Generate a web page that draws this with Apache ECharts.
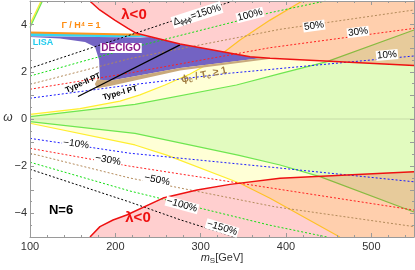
<!DOCTYPE html>
<html><head><meta charset="utf-8">
<script src="https://cdn.jsdelivr.net/npm/echarts@6/dist/echarts.min.js"></script>
<style>html,body{margin:0;padding:0;background:#fff}#c{width:415px;height:270px}</style>
</head><body><div id="c"></div>
<script>
// ---- tick labels ----
const xTickValues = [100, 200, 300, 400, 500];
const yTickValues = [-4, -2, 0, 2, 4];

// ---- lambda<0 boundaries (solid red) [mS, omega] ----
const lambdaUpper = [[170,5.0],[181.7,4.62],[199.3,4.19],[214.8,3.84],[224.6,3.63],[275.8,3.18],[357.8,2.64],[381.3,2.57],[550,2.27]];
const lambdaLower = [[170.3,-5.0],[182,-4.56],[197.3,-4.28],[213.3,-4.07],[255.9,-3.35],[295.7,-3.01],[334.4,-2.77],[393,-2.51],[550,-2.23]];

// ---- phi_c/T_c >= 1 boundaries (yellow) ----
const yellowUpper = [[100,0.20],[158.6,0.44],[205.5,0.76],[228.9,1.02],[258.2,1.44],[287.5,1.91],[310.9,2.37],[346.1,3.35],[381.3,4.19],[419,5.0]];
const yellowLower = [[100,-0.18],[223,-1.10],[260.2,-1.53],[346.1,-2.72],[381.3,-3.36],[463,-5.0]];

// ---- green boundaries ----
const greenUpper = [[100,0.10],[223,0.62],[342,1.44],[393,1.92],[448,2.43],[550,3.77]];
const greenLower = [[100,-0.11],[223,-0.61],[343.8,-1.53],[393,-1.95],[439.8,-2.44],[550,-3.94]];

// ---- small corner branch (top left) ----
const cornerYellow = [[100,4.02],[113,5.0]];
const cornerGreen = [[100,3.88],[114.6,5.0]];

// ---- Gamma/H^4 = 1, LISA, DECIGO, Type-II, Type-I ----
const gammaLine = [[100,3.66],[229,3.57]];
const lisaBand = [[100,3.66],[229,3.57],[241,3.48],[200,3.46],[100,3.52]];
const decigoRegion = [[100,3.51],[230,3.45],[241,3.47],[275.8,3.18],[357.8,2.64],[372,2.58],[275.8,2.16],[193.8,1.62],[182,1.65],[181,2.5],[176.2,3.05],[164.5,3.26],[135.2,3.41],[100,3.47]];
const typeIIRegion = [[179,1.68],[193.8,1.62],[275.8,2.16],[372,2.58],[387,2.57],[275.8,2.06],[193.8,1.40],[178.5,1.30],[176,1.48]];
const typeILine = [[156.3,0.95],[275.8,3.14]];

// ---- Delta_phiphiphi contours (dotted) ----
const d150 = [[100,2.15],[229,3.70],[276,4.27],[338,5.0]];
const d100 = [[100,1.82],[217,3.0],[381,4.5],[446,5.0]];
const d50  = [[100,1.47],[217,2.56],[393,3.80],[550,4.62]];
const d30  = [[100,1.26],[217,1.95],[381,3.02],[550,3.84]];
const d10  = [[100,0.88],[217,1.44],[334,1.94],[550,2.67]];
const dm10 = [[100,-0.82],[217,-1.45],[385,-2.05],[550,-2.66]];
const dm30 = [[100,-1.24],[217,-2.0],[387,-2.95],[550,-3.86]];
const dm50 = [[100,-1.45],[217,-2.5],[387,-3.72],[550,-4.56]];
const dm100= [[100,-1.83],[217,-3.05],[381,-4.5],[448,-5.0]];
const dm150= [[100,-2.13],[217,-3.52],[276,-4.27],[340,-5.0]];
const zeroLine = [[100,0],[550,0]];

const X_MIN = 100, X_MAX = 550, Y_MIN = -5, Y_MAX = 5;

function area(pts, fill, z) {
  return {type:'custom', coordinateSystem:'cartesian2d', silent:true, z:z, clip:true, animation:false,
    data:[pts[0]],
    renderItem:function(params, api){
      return {type:'polygon', shape:{points:pts.map(function(p){return api.coord(p);})}, style:{fill:fill}};
    }};
}
function curve(pts, color, width, type, z) {
  return {type:'line', data:pts, showSymbol:false, symbol:'none', silent:true, z:z, clip:true, animation:false,
    lineStyle:{color:color, width:width, type:type}};
}
const rev = a => a.slice().reverse();

const pink = 'rgba(255,0,0,0.19)';
const series = [
  area(yellowUpper.concat([[X_MAX,Y_MAX],[X_MAX,Y_MIN]], rev(yellowLower)), '#ffffd6', 1),
  area(greenUpper.concat(rev(greenLower)), '#e2fbbf', 2),
  area(cornerYellow.concat(rev(cornerGreen)), '#e2fbbf', 2),
  curve(zeroLine, 'rgba(0,0,0,0.12)', 1, 'solid', 3),
  curve(yellowUpper, '#ffee30', 1.2, 'solid', 3),
  curve(yellowLower, '#ffee30', 1.2, 'solid', 3),
  curve(cornerYellow, '#ffee30', 1.2, 'solid', 3),
  curve(greenUpper, '#6ee650', 1.2, 'solid', 3),
  curve(greenLower, '#6ee650', 1.2, 'solid', 3),
  curve(cornerGreen, '#6ee650', 1.2, 'solid', 3),
  area(lambdaUpper.concat([[X_MAX,Y_MAX]]), pink, 4),
  area(lambdaLower.concat([[X_MAX,Y_MIN]]), pink, 4),
  area(lisaBand, '#35d6f2', 5),
  area(decigoRegion, '#7363c3', 5),
  area(typeIIRegion, '#c9a97c', 5),
  curve(gammaLine, '#ff961e', 2, 'solid', 6),
  curve(d150, '#000000', 1, [2,2], 7),
  curve(d100, '#11dd11', 1, [2,2], 7),
  curve(d50,  '#b38a5a', 1, [2,2], 7),
  curve(d30,  '#ff2020', 1, [2,2], 7),
  curve(d10,  '#1a1aff', 1, [2,2], 7),
  curve(dm10, '#1a1aff', 1, [2,2], 7),
  curve(dm30, '#ff2020', 1, [2,2], 7),
  curve(dm50, '#b38a5a', 1, [2,2], 7),
  curve(dm100,'#11dd11', 1, [2,2], 7),
  curve(dm150,'#000000', 1, [2,2], 7),
  curve(typeILine, '#000000', 1.2, 'solid', 8),
  curve(lambdaUpper, '#ee1111', 1.5, 'solid', 8),
  curve(lambdaLower, '#ee1111', 1.5, 'solid', 8)
];

const FF = 'Liberation Sans, Arial, sans-serif';
function lbl(text, x, y, rot, st) {
  return {type:'text', x:x, y:y, rotation:rot*Math.PI/180, z:100,
    style:Object.assign({text:text, align:'center', verticalAlign:'middle', fontFamily:FF, fontSize:10, fill:'#000'}, st||{})};
}
const boxed = {backgroundColor:'#fff', padding:[0,1,0,1]};
const tanTxt = '#a07c40';
const graphics = [
  lbl('{a|Δ}{s|ϕϕϕ}{a|=150%}', 197, 15, 18, Object.assign({rich:{a:{fontSize:10,fontFamily:FF,lineHeight:12},s:{fontSize:7,fontFamily:FF,lineHeight:12,verticalAlign:'bottom',padding:[4,0,0,0]}}}, boxed)),
  lbl('100%', 250, 15, 14, boxed),
  lbl('50%', 314, 26, 8, boxed),
  lbl('30%', 358, 32, 7, boxed),
  lbl('10%', 387, 55, 5, boxed),
  lbl('−10%', 76, 144, -7, boxed),
  lbl('−30%', 108, 160, -10, boxed),
  lbl('−50%', 157, 180, -12, boxed),
  lbl('−100%', 182, 205, -15, boxed),
  lbl('−150%', 222, 228, -17, boxed),
  lbl('λ<0', 134, 15, 0, {fill:'#ee1111', fontSize:15, fontWeight:'bold'}),
  lbl('λ<0', 138, 218, 0, {fill:'#ee1111', fontSize:15, fontWeight:'bold'}),
  lbl('Γ / H⁴ = 1', 81, 26, 0, {fill:'#ff8c10', fontSize:9, fontWeight:'bold'}),
  lbl('LISA', 43, 43, 0, {fill:'#22ccee', fontSize:9, fontWeight:'bold'}),
  lbl('DECIGO', 121, 48, 0, Object.assign({fill:'#8b1a8b', fontSize:10, fontWeight:'bold'}, boxed)),
  lbl('Type-II PT', 83, 83, 24, {fontSize:8, fontWeight:'bold'}),
  lbl('Type-I PT', 120, 93, 15, {fontSize:8, fontWeight:'bold'}),
  lbl('{a|ϕ}{s|c}{a| / T}{s|c}{a| ≥ 1}', 204, 75, 12, {fill:tanTxt, fontWeight:'bold', rich:{a:{fontSize:10,fontFamily:FF,fill:tanTxt,fontWeight:'bold',lineHeight:12},s:{fontSize:7,fontFamily:FF,fill:tanTxt,fontWeight:'bold',lineHeight:12,verticalAlign:'bottom',padding:[4,0,0,0]}}}),
  lbl('N=6', 61, 210, 0, {fontSize:13, fontWeight:'bold'}),
  lbl('ω', 8, 118, 0, {fontSize:12, fontStyle:'italic', fill:'#333'}),
  lbl('{i|m}{s|S}{a|[GeV]}', 222, 258, 0, {rich:{i:{fontSize:11,fontStyle:'italic',fontFamily:FF,fill:'#333',lineHeight:13},s:{fontSize:8,fontFamily:FF,fill:'#333',lineHeight:13,verticalAlign:'bottom',padding:[4,0,0,0]},a:{fontSize:11,fontFamily:FF,fill:'#333',lineHeight:13}}})
];

function xAx(pos, showLabel) {
  return {type:'value', position:pos, min:X_MIN, max:X_MAX, interval:100, z:20,
    axisLine:{show:true, onZero:false, lineStyle:{color:'#9a9a9a', width:1}},
    axisTick:{show:true, inside:true, length:4, lineStyle:{color:'#9a9a9a'}},
    minorTick:{show:true, splitNumber:5, length:2, lineStyle:{color:'#9a9a9a'}},
    splitLine:{show:false}, minorSplitLine:{show:false},
    axisLabel:{show:showLabel, margin:4, fontSize:11, color:'#333', fontFamily:FF, showMaxLabel:false,
      formatter:function(v){return xTickValues.indexOf(v)>=0 ? String(v) : '';}}};
}
function yAx(pos, showLabel) {
  return {type:'value', position:pos, min:Y_MIN, max:Y_MAX, interval:1, z:20,
    axisLine:{show:true, onZero:false, lineStyle:{color:'#9a9a9a', width:1}},
    axisTick:{show:true, inside:true, length:4, lineStyle:{color:'#9a9a9a'}},
    minorTick:{show:true, splitNumber:2, length:2, lineStyle:{color:'#9a9a9a'}},
    splitLine:{show:false}, minorSplitLine:{show:false},
    axisLabel:{show:showLabel, margin:3, fontSize:11, color:'#333', fontFamily:FF,
      formatter:function(v){return yTickValues.indexOf(v)>=0 ? (v<0 ? '−'+(-v) : String(v)) : '';}}};
}

const chart = echarts.init(document.getElementById('c'), null, {renderer:'canvas'});
chart.setOption({
  animation:false,
  grid:{left:30, right:1, top:1, bottom:33, containLabel:false},
  xAxis:[xAx('bottom', true), xAx('top', false)],
  yAxis:[yAx('left', true), yAx('right', false)],
  series:series,
  graphic:graphics
});
</script></body></html>
